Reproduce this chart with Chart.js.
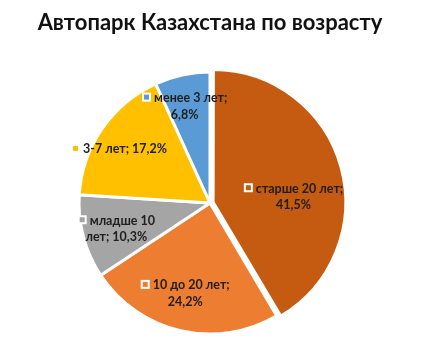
<!DOCTYPE html>
<html>
<head>
<meta charset="utf-8">
<script src="https://cdn.jsdelivr.net/npm/chart.js@4/dist/chart.umd.min.js"></script>
<style>
  html, body { margin: 0; padding: 0; background: #fff; }
  #wrap { width: 426px; height: 352px; }
</style>
</head>
<body>
<div id="wrap"><canvas id="ageChart"></canvas></div>
<script>
// data (clockwise from 12 o'clock)
const categories = ['старше 20 лет', '10 до 20 лет', 'младше 10 лет', '3-7 лет', 'менее 3 лет'];
const shares = [41.5, 24.2, 10.3, 17.2, 6.8];
const sliceColors = ['#C55A11', '#ED7D31', '#A5A5A5', '#FFC000', '#5B9BD5'];
// chart.js moves an arc by offset/4
const explode = [13, 0, 0, 0, 0];

// where excel put each label: angle shift from slice middle (deg), distance as share of radius
const labelShift = [10.5, 2.5, 0, -3.6, -2.3];
const labelDist = [0.64, 0.71, 0.74, 0.81, 0.77];

const LABEL_FONT = 'bold 12.5px Lato, sans-serif';

function wrapText(ctx, text, maxW) {
    const words = text.split(' ');
    const lines = [];
    let cur = '';
    words.forEach(w => {
        const test = cur ? cur + ' ' + w : w;
        if (cur && ctx.measureText(test).width > maxW) {
            lines.push(cur);
            cur = w;
        } else {
            cur = test;
        }
    });
    if (cur) lines.push(cur);
    return lines;
}

const sliceLabels = {
    id: 'sliceLabels',
    afterDatasetsDraw(chart) {
        const ctx = chart.ctx;
        const arcs = chart.getDatasetMeta(0).data;
        ctx.save();
        ctx.font = LABEL_FONT;
        ctx.textBaseline = 'middle';
        ctx.textAlign = 'left';
        arcs.forEach((arc, i) => {
            const mid = (arc.startAngle + arc.endAngle) / 2 + labelShift[i] * Math.PI / 180;
            const r = arc.outerRadius * labelDist[i];
            const cx = arc.x + Math.cos(mid) * r;
            const cy = arc.y + Math.sin(mid) * r;
            const text = categories[i] + '; ' + shares[i].toFixed(1).replace('.', ',') + '%';
            const lines = wrapText(ctx, text, 92);
            const lh = 16.5;
            const y0 = cy - (lines.length - 1) * lh / 2;
            lines.forEach((line, k) => {
                const w = ctx.measureText(line).width;
                const y = y0 + k * lh;
                if (k === 0) {
                    const box = 9, gap = 3;
                    const x0 = cx - (w + box + gap) / 2;
                    ctx.fillStyle = '#fff';
                    ctx.fillRect(x0, y - box / 2, box, box);
                    ctx.fillStyle = sliceColors[i];
                    ctx.fillRect(x0 + 2, y - box / 2 + 2, box - 4, box - 4);
                    ctx.fillStyle = '#1e1e1e';
                    ctx.fillText(line, x0 + box + gap, y + 1);
                } else {
                    ctx.fillStyle = '#1e1e1e';
                    ctx.fillText(line, cx - w / 2, y + 1);
                }
            });
        });
        ctx.restore();
    }
};

new Chart(document.getElementById('ageChart'), {
    type: 'pie',
    data: {
        labels: categories,
        datasets: [{
            data: shares,
            backgroundColor: sliceColors,
            borderColor: '#fff',
            borderWidth: 3,
            offset: explode,
            clip: false
        }]
    },
    options: {
        responsive: true,
        maintainAspectRatio: false,
        animation: false,
        radius: 131,
        layout: {
            padding: { top: 6, bottom: 6, left: 0, right: 6 }
        },
        plugins: {
            legend: { display: false },
            tooltip: { enabled: false },
            title: {
                display: true,
                text: 'Автопарк Казахстана по возрасту',
                color: '#111',
                font: { family: 'Lato, sans-serif', size: 22, weight: 'bold' },
                padding: { top: 4, bottom: 23.6 }
            }
        }
    },
    plugins: [sliceLabels]
});
</script>
</body>
</html>
